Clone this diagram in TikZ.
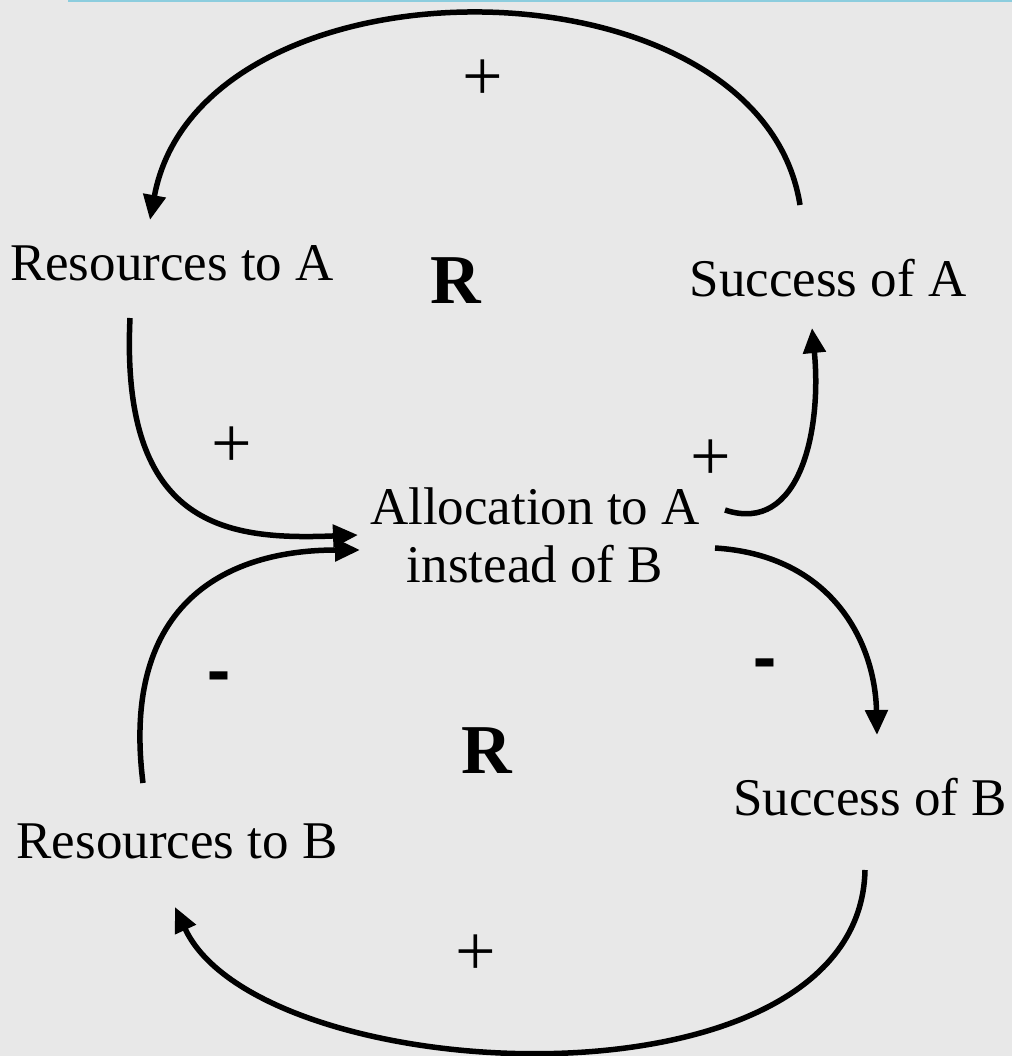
\documentclass[tikz,border=0pt]{standalone}
\usepackage{fontspec}
\setmainfont{Liberation Serif}
\usetikzlibrary{arrows.meta}
\definecolor{paper}{RGB}{232,232,232}
\definecolor{rule}{RGB}{140,205,222}
\begin{document}
\begin{tikzpicture}[x=1pt,y=-1pt,
  label/.style={inner sep=0pt,font=\fontsize{53}{58}\selectfont},
  plus/.style={inner sep=0pt,font=\fontsize{72}{72}\selectfont},
  minus/.style={inner sep=0pt,font=\fontsize{60}{60}\selectfont\bfseries},
  loopmark/.style={inner sep=0pt,font=\fontsize{70}{70}\selectfont\bfseries},
  link/.style={line width=5.5pt,-{Triangle[length=25pt,width=22pt]}}]
  % background and top rule
  \fill[paper] (0,0) rectangle (1012,1056);
  \useasboundingbox (0,0) rectangle (1012,1056);
  \draw[rule,line width=3pt] (68,1) -- (1012,1);

  % variables
  \node[label,anchor=base] (resA) at (172,280) {Resources to A};
  \node[label,anchor=base] (sucA) at (828,297) {Success of A};
  \node[label,anchor=north,align=center] (alloc) at (535,488) {Allocation to A\\instead of B};
  \node[label,anchor=base] (sucB) at (870,815) {Success of B};
  \node[label,anchor=base] (resB) at (177,858) {Resources to B};

  % loop markers
  \node[loopmark,anchor=base] (loopA) at (456,303) {R};
  \node[loopmark,anchor=base] (loopB) at (487,773) {R};

  % link ends
  \coordinate (sucA-out) at (800,205);
  \coordinate (resA-in) at (150,220);
  \coordinate (resA-out) at (130,318);
  \coordinate (alloc-inA) at (358,535);
  \coordinate (resB-out) at (143,783);
  \coordinate (alloc-inB) at (360,550);
  \coordinate (alloc-outA) at (725,510);
  \coordinate (sucA-in) at (812,328);
  \coordinate (alloc-outB) at (715,548);
  \coordinate (sucB-in) at (877,735);
  \coordinate (sucB-out) at (865,870);
  \coordinate (resB-in) at (175,907);

  % causal links
  \draw[link] (sucA-out) .. controls (760,-50) and (200,-52) .. (resA-in);
  \draw[link] (resA-out) .. controls (120,530) and (230,540) .. (alloc-inA);
  \draw[link] (resB-out) .. controls (120,600) and (230,550) .. (alloc-inB);
  \draw[link] (alloc-outA) .. controls (800,535) and (822,430) .. (sucA-in);
  \draw[link] (alloc-outB) .. controls (830,555) and (875,640) .. (sucB-in);
  \draw[link] (sucB-out) .. controls (860,1120) and (260,1090) .. (resB-in);

  % link polarities
  \node[plus] (pTop) at (483,80) {+};
  \node[plus] (pResA) at (232,447) {+};
  \node[plus] (pSucA) at (711,460) {+};
  \node[minus] (mResB) at (219,685) {\scalebox{1.15}[1.6]{-}};
  \node[minus] (mSucB) at (765,672) {\scalebox{1.15}[1.6]{-}};
  \node[plus] (pBot) at (476,955) {+};
\end{tikzpicture}
\end{document}
